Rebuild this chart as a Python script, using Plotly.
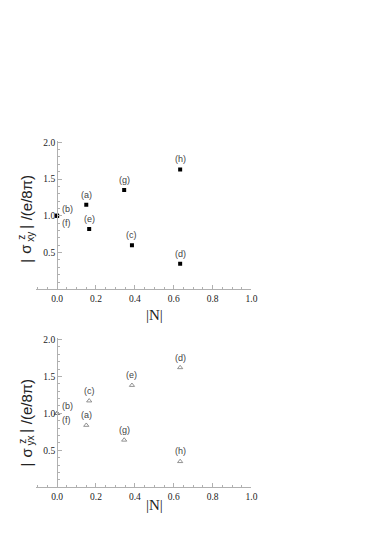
import plotly.graph_objects as go

labels = ["(a)", "(b)", "(c)", "(d)", "(e)", "(f)", "(g)", "(h)"]

# top panel: |sigma^z_xy|
n_xy = [0.150, 0.0, 0.385, 0.633, 0.165, 0.0, 0.345, 0.633]
s_xy = [1.15, 1.0, 0.60, 0.35, 0.82, 1.0, 1.35, 1.63]

# bottom panel: |sigma^z_yx|
n_yx = [0.150, 0.0, 0.165, 0.633, 0.385, 0.0, 0.345, 0.633]
s_yx = [0.84, 1.0, 1.17, 1.62, 1.38, 1.0, 0.64, 0.35]

x_ticks = [0.0, 0.2, 0.4, 0.6, 0.8, 1.0]
y_ticks = [0.5, 1.0, 1.5, 2.0]

W, H = 382, 545
AX = "#b0b0b0"
serif = "Liberation Serif, Times New Roman, serif"
sans = "Liberation Sans, Arial, sans-serif"

fig = go.Figure()
fig.add_trace(go.Scatter(x=n_xy, y=s_xy, mode="markers", xaxis="x", yaxis="y",
                         marker=dict(symbol="square", size=4, color="black"),
                         showlegend=False, hoverinfo="skip"))
fig.add_trace(go.Scatter(x=n_yx, y=s_yx, mode="markers", xaxis="x2", yaxis="y2",
                         marker=dict(symbol="triangle-up-open", size=4.5, color="#777777",
                                     line=dict(width=0.8, color="#777777")),
                         showlegend=False, hoverinfo="skip"))

x_dom = [36.3 / W, 255.5 / W]
y0_pos = 58 / W

def xaxis_cfg(anchor):
    return dict(domain=x_dom, range=[-0.11, 1.0], anchor=anchor,
                showline=True, linecolor=AX, linewidth=1,
                showgrid=False, zeroline=False, fixedrange=True,
                tickvals=x_ticks, ticktext=[f"{v:.1f}" for v in x_ticks],
                ticks="inside", ticklen=4, tickcolor=AX, tickwidth=1,
                minor=dict(dtick=0.05, ticks="inside", ticklen=2, tickcolor=AX, tick0=0),
                tickfont=dict(family=serif, size=9.5, color="#222"))

def yaxis_cfg(dom):
    return dict(domain=dom, range=[0, 2.02], anchor="free", position=y0_pos,
                showline=True, linecolor=AX, linewidth=1,
                showgrid=False, zeroline=False, fixedrange=True,
                tickvals=y_ticks, ticktext=[f"{v:.1f}" for v in y_ticks],
                ticks="inside", ticklen=4, tickcolor=AX, tickwidth=1,
                minor=dict(dtick=0.1, ticks="inside", ticklen=2, tickcolor=AX, tick0=0),
                tickfont=dict(family=serif, size=9.5, color="#222"))

top_dom = [(H - 288) / H, (H - 138.5) / H]
bot_dom = [(H - 487) / H, (H - 336.8) / H]

fig.update_layout(
    width=W, height=H, autosize=False,
    margin=dict(l=0, r=0, t=0, b=0),
    paper_bgcolor="white", plot_bgcolor="white",
    xaxis=xaxis_cfg("y"), yaxis=yaxis_cfg(top_dom),
    xaxis2=xaxis_cfg("y2"), yaxis2=yaxis_cfg(bot_dom),
)

ann = []
def point_labels(xs, ys, xr, yr):
    for lab, x, y in zip(labels, xs, ys):
        f = dict(family=sans, size=9, color="#444")
        if lab == "(b)":
            ann.append(dict(x=x, y=y, xref=xr, yref=yr, text=lab, showarrow=False,
                            xanchor="left", xshift=3, yshift=7, font=f))
        elif lab == "(f)":
            ann.append(dict(x=x, y=y, xref=xr, yref=yr, text=lab, showarrow=False,
                            xanchor="left", xshift=3, yshift=-7, font=f))
        else:
            ann.append(dict(x=x, y=y, xref=xr, yref=yr, text=lab, showarrow=False,
                            yshift=10, font=f))

point_labels(n_xy, s_xy, "x", "y")
point_labels(n_yx, s_yx, "x2", "y2")

# rotated y-axis titles built from pieces so that the superscript z sits above the subscript
def ytitle(sub, dy):
    big = dict(family=sans, size=15, color="#222")
    small = dict(family=sans, size=10, color="#222")
    xc = 26.5
    def put(text, y, x=xc, font=big, yanchor="middle"):
        ann.append(dict(x=x / W, y=(H - (y + dy)) / H, xref="paper", yref="paper",
                        showarrow=False, text=text, textangle=-90, font=font,
                        xanchor="center", yanchor=yanchor))
    put("|", 259)
    put("σ", 247)
    put(sub, 235, x=xc + 5, font=small)
    put("z", 236, x=xc - 4, font=small)
    put("|", 225)
    put("/(e/8π)", 221, yanchor="bottom")

ytitle("xy", 0)
ytitle("yx", 205)

ann.append(dict(x=157 / W, y=(H - 314) / H, xref="paper", yref="paper", showarrow=False,
                text="|N|", font=dict(family=serif, size=15, color="#222")))
ann.append(dict(x=157 / W, y=(H - 515) / H, xref="paper", yref="paper", showarrow=False,
                text="|N|", font=dict(family=serif, size=15, color="#222")))

fig.update_layout(annotations=ann)
fig.write_html("out.html", config={"displayModeBar": False, "staticPlot": True},
               post_script="document.body.style.margin='0';")
